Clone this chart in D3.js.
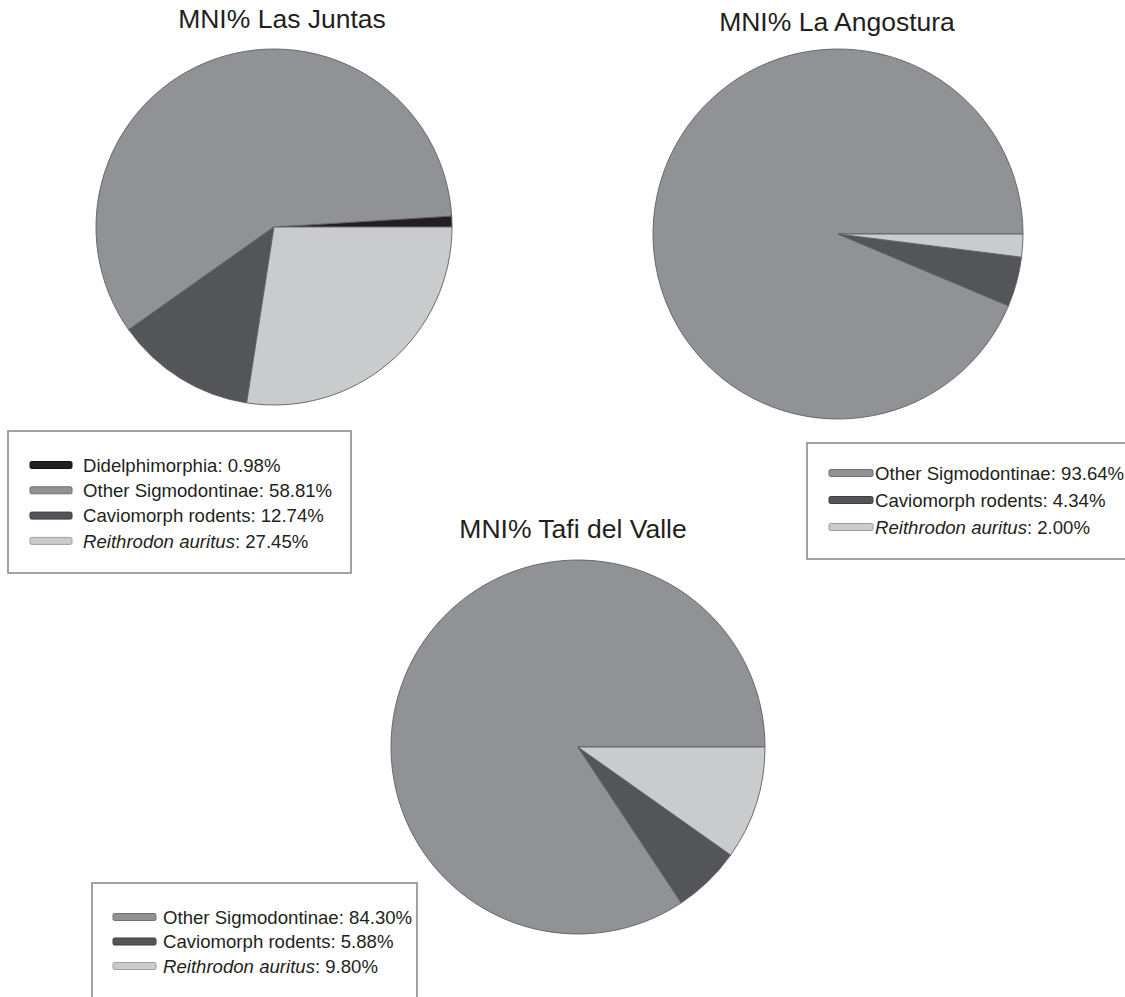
<!DOCTYPE html>
<html>
<head>
<meta charset="utf-8">
<script src="https://cdn.jsdelivr.net/npm/d3@7"></script>
<style>
  html, body { margin: 0; padding: 0; background: #fff; }
  svg { display: block; font-family: "Liberation Sans", Arial, sans-serif; }
</style>
</head>
<body>
<svg id="chart" width="1125" height="997"></svg>
<script>
// ---------- data ----------
const categoriesLasJuntas = ["Didelphimorphia", "Other Sigmodontinae", "Caviomorph rodents", "Reithrodon auritus"];
const valuesLasJuntas = [0.98, 58.81, 12.74, 27.45];

const categoriesLaAngostura = ["Other Sigmodontinae", "Caviomorph rodents", "Reithrodon auritus"];
const valuesLaAngostura = [93.64, 4.34, 2.00];

const categoriesTafi = ["Other Sigmodontinae", "Caviomorph rodents", "Reithrodon auritus"];
const valuesTafi = [84.30, 5.88, 9.80];

const titles = ["MNI% Las Juntas", "MNI% La Angostura", "MNI% Tafi del Valle"];
const italicCategories = ["Reithrodon auritus"];

// ---------- styles ----------
const colorScale = d3.scaleOrdinal()
  .domain(["Didelphimorphia", "Other Sigmodontinae", "Caviomorph rodents", "Reithrodon auritus"])
  .range(["#231f20", "#919296", "#545558", "#cacbcd"]);
const swatchStroke = d3.scaleOrdinal()
  .domain(["Didelphimorphia", "Other Sigmodontinae", "Caviomorph rodents", "Reithrodon auritus"])
  .range(["#111", "#6e6f72", "#3c3d40", "#9c9d9f"]);

const panels = [
  { title: titles[0], cats: categoriesLasJuntas, vals: valuesLasJuntas,
    cx: 274, cy: 227, r: 178, tx: 282, ty: 28,
    box: [8, 431, 351, 573], sx: 30, sw: 42, lx: 83, ly0: 465, lstep: 25.3 },
  { title: titles[1], cats: categoriesLaAngostura, vals: valuesLaAngostura,
    cx: 838, cy: 234, r: 185, tx: 837, ty: 31,
    box: [807, 443, 1135, 559], sx: 829, sw: 44, lx: 875, ly0: 473, lstep: 27 },
  { title: titles[2], cats: categoriesTafi, vals: valuesTafi,
    cx: 578, cy: 747, r: 187, tx: 573, ty: 538,
    box: [92, 883, 417, 1010], sx: 113, sw: 43, lx: 163, ly0: 917, lstep: 24.5 }
];

const svg = d3.select("#chart");
const fmt = d3.format(".2f");

// Slices run counter-clockwise from 3 o'clock
const pie = d3.pie().sort(null)
  .startAngle(Math.PI / 2)
  .endAngle(Math.PI / 2 - 2 * Math.PI);

panels.forEach(p => {
  const data = p.cats.map((c, i) => ({ cat: c, val: p.vals[i] }));
  const arc = d3.arc().innerRadius(0).outerRadius(p.r);

  // title
  svg.append("text")
    .attr("x", p.tx).attr("y", p.ty)
    .attr("text-anchor", "middle")
    .attr("font-size", 26.5)
    .attr("fill", "#231f20")
    .text(p.title);

  // pie
  const g = svg.append("g").attr("transform", `translate(${p.cx},${p.cy})`);
  g.selectAll("path")
    .data(pie.value(d => d.val)(data))
    .join("path")
    .attr("d", arc)
    .attr("fill", d => colorScale(d.data.cat))
    .attr("stroke", "#5e5f62")
    .attr("stroke-width", 0.9)
    .attr("stroke-linejoin", "round");

  // legend box
  const [x0, y0, x1, y1] = p.box;
  svg.append("rect")
    .attr("x", x0).attr("y", y0)
    .attr("width", x1 - x0).attr("height", y1 - y0)
    .attr("fill", "none")
    .attr("stroke", "#8a8b8d")
    .attr("stroke-width", 1.6);

  const items = svg.append("g").selectAll("g")
    .data(data)
    .join("g")
    .attr("transform", (d, i) => `translate(0,${p.ly0 + i * p.lstep})`);

  items.append("rect")
    .attr("x", p.sx).attr("y", -3.5)
    .attr("width", p.sw).attr("height", 7)
    .attr("rx", 1.5)
    .attr("fill", d => colorScale(d.cat))
    .attr("stroke", d => swatchStroke(d.cat))
    .attr("stroke-width", 1);

  const t = items.append("text")
    .attr("x", p.lx).attr("y", 0)
    .attr("dy", "0.36em")
    .attr("font-size", 18.6)
    .attr("fill", "#231f20");
  t.append("tspan")
    .attr("font-style", d => italicCategories.includes(d.cat) ? "italic" : "normal")
    .text(d => d.cat);
  t.append("tspan")
    .text(d => ": " + fmt(d.val) + "%");
});
</script>
</body>
</html>
